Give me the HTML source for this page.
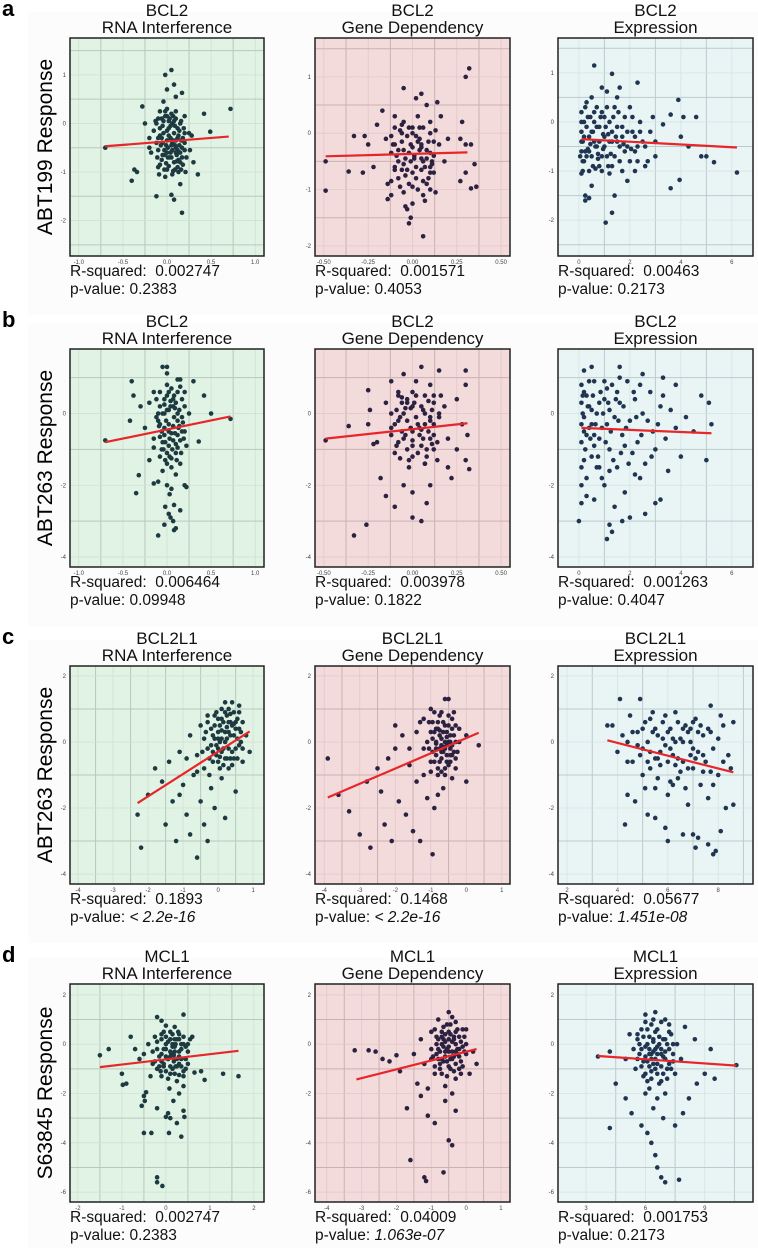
<!DOCTYPE html>
<html><head><meta charset="utf-8"><style>
html,body{margin:0;padding:0;background:#fff;}
svg{display:block;font-family:"Liberation Sans",sans-serif;}
</style></head><body>
<svg id="fig" width="758" height="1248" viewBox="0 0 758 1248" xmlns="http://www.w3.org/2000/svg">
<rect x="0" y="0" width="758" height="1248" fill="#ffffff"/>
</svg>
<script>
const NS="http://www.w3.org/2000/svg";
const svg=document.getElementById('fig');
// ---- data ----
const rowLetters=["a","b","c","d"];
const rowYTitles=["ABT199 Response","ABT263 Response","ABT263 Response","S63845 Response"];
const rowGenes=["BCL2","BCL2","BCL2L1","MCL1"];
const colTypes=["RNA Interference","Gene Dependency","Expression"];
const rsq=[["0.002747","0.001571","0.00463"],["0.006464","0.003978","0.001263"],["0.1893","0.1468","0.05677"],["0.002747","0.04009","0.001753"]];
const pvals=[["0.2383","0.4053","0.2173"],["0.09948","0.1822","0.4047"],["< 2.2e-16","< 2.2e-16","1.451e-08"],["0.2383","1.063e-07","0.2173"]];
const pItalic=[[0,0,0],[0,0,0],[1,1,1],[0,1,0]];
const xTicks=[
 [[-1,-0.5,0,0.5,1],[-0.5,-0.25,0,0.25,0.5],[0,2,4,6]],
 [[-1,-0.5,0,0.5,1],[-0.5,-0.25,0,0.25,0.5],[0,2,4,6]],
 [[-4,-3,-2,-1,0,1],[-4,-3,-2,-1,0,1],[2,4,6,8]],
 [[-2,-1,0,1,2],[-4,-3,-2,-1,0,1],[3,6,9]]];
const xTickLabels=[
 [["-1.0","-0.5","0.0","0.5","1.0"],["-0.50","-0.25","0.00","0.25","0.50"],["0","2","4","6"]],
 [["-1.0","-0.5","0.0","0.5","1.0"],["-0.50","-0.25","0.00","0.25","0.50"],["0","2","4","6"]],
 [["-4","-3","-2","-1","0","1"],["-4","-3","-2","-1","0","1"],["2","4","6","8"]],
 [["-2","-1","0","1","2"],["-4","-3","-2","-1","0","1"],["3","6","9"]]];
const xDomains=[
 [[-1.1,1.1],[-0.55,0.55],[-0.82,6.83]],
 [[-1.1,1.1],[-0.55,0.55],[-0.82,6.83]],
 [[-4.23,1.31],[-4.26,1.23],[1.64,9.38]],
 [[-2.18,2.23],[-4.34,1.26],[1.58,11.44]]];
const yTicks=[[1,0,-1,-2],[0,-2,-4],[2,0,-2,-4],[2,0,-2,-4,-6]];
const yDomains=[
 [[-2.73,1.76],[-2.18,1.69],[-2.73,1.71]],
 [[-4.28,1.8],[-4.28,1.8],[-4.28,1.8]],
 [[-4.3,2.3],[-4.3,2.3],[-4.3,2.3]],
 [[-6.4,2.44],[-6.4,2.44],[-6.4,2.44]]];
const fitLines=[
 [[-0.7,-0.47,0.7,-0.27],[-0.49,-0.41,0.31,-0.34],[0.1,-0.35,6.2,-0.52]],
 [[-0.7,-0.8,0.72,-0.08],[-0.49,-0.7,0.31,-0.27],[0.1,-0.4,5.2,-0.55]],
 [[-2.3,-1.85,0.9,0.32],[-3.9,-1.68,0.35,0.28],[3.6,0.05,8.6,-0.92]],
 [[-1.5,-0.93,1.65,-0.27],[-3.15,-1.43,0.3,-0.2],[3.6,-0.48,10.6,-0.87]]];
const pts=[[
"-0.7,-0.5 0.72,0.3 0.49,-0.17 0.42,0.2 0.05,1.1 -0.02,1.0 0.08,0.8 0.17,0.63 -0.28,0.35 -0.37,-0.95 -0.34,-1.0 -0.4,-1.18 -0.12,-1.5 0.08,-1.57 0.17,-1.84 0.05,-1.47 0.35,-1.05 0.3,-0.8 0.15,-1.25 -0.2,-0.5 -0.25,0.0 0.28,-0.25 0.0,0.7 -0.04,0.45 0.1,0.55 0.0,0.3 -0.1,0.1 0,0.15 0.05,0.2 0.1,0.1 0.15,0.0 -0.05,-0.05 0.02,-0.1 0.08,-0.2 0.12,-0.3 -0.08,-0.25 0,-0.35 0.05,-0.45 0.1,-0.5 -0.03,-0.55 0.15,-0.6 0.2,-0.4 -0.12,-0.4 0.03,-0.7 0.08,-0.8 -0.06,-0.75 0.12,-0.9 0.0,-0.95 0.18,-0.85 -0.1,-0.9 0.06,-1.05 -0.02,-1.1 0.22,-0.7 0.25,-0.2 -0.15,-0.15 -0.18,-0.6 0.2,0.15 0.1,0.25 -0.02,0.25 0.04,-0.6 0.09,-0.05 -0.07,-0.45 0.14,-0.15 0.02,0.05 0.07,-0.35 -0.04,-0.2 0.17,-0.5 0.11,-0.65 -0.01,-0.82 0.04,-0.3 0.13,-1.0 -0.09,-1.05 0.21,-1.0 0.26,-0.55 -0.2,-0.3 -0.13,0.05 0.06,0.0 -0.06,0.1 0.13,-0.75 -0.11,-0.7 0.01,-0.5 0.16,-0.35 -0.03,-0.65 0.09,-0.95 0.19,-0.1 -0.08,0.25",
"-0.49,-0.5 -0.49,-1.02 -0.36,-0.68 -0.33,-0.05 -0.28,-0.7 -0.27,-0.05 -0.25,-0.2 -0.22,-0.6 -0.2,0.15 -0.17,0.4 -0.14,-0.9 -0.14,-1.17 -0.12,-1.1 -0.05,0.8 0.02,0.62 0.05,0.7 0.08,0.5 0.14,0.55 0.3,1.0 0.32,1.15 0.28,0.2 0.27,-0.1 0.3,-0.2 0.33,-0.2 0.35,-0.55 0.36,-0.95 0.33,-0.98 0.3,-0.7 0.27,-0.85 -0.04,-1.3 -0.03,-1.35 -0.01,-1.5 -0.02,-1.6 0.07,-1.2 0.06,-1.83 0.0,-1.25 0.13,-1.05 0.18,-0.5 0.2,-0.1 0.16,0.3 -0.08,-0.8 -0.1,0.3 0.1,0.2 -0.05,0.2 0.0,0.0 0.04,-0.1 -0.06,-0.15 0.08,-0.3 -0.02,-0.35 0.05,-0.45 -0.08,-0.5 0.02,-0.6 0.1,-0.7 -0.04,-0.75 0.06,-0.85 0.12,-0.4 -0.12,-0.35 0.0,-0.95 0.1,-1.0 -0.1,-0.6 0.15,-0.2 -0.15,-0.1 0.03,0.3 -0.07,0.05 0.13,0.05 0.07,-0.6 -0.01,-0.2 0.02,-0.8 0.04,0.1 -0.03,-0.05 0.09,-0.15 -0.06,-0.65 0.05,-0.25 0.11,-0.55 -0.11,-0.2 0.01,-0.45",
"0.6,1.15 1.3,0.98 2.3,0.8 0.9,0.7 1.1,0.62 1.6,0.7 3.9,0.45 4.6,0.1 4.1,0.1 3.3,-0.05 3.6,0.15 4.0,-0.3 4.3,-0.5 4.8,-0.7 5.0,-0.7 5.3,-0.82 6.2,-1.03 3.95,-1.18 3.6,-1.35 1.3,-1.85 1.05,-2.05 0.25,-1.5 0.25,-1.6 0.4,-1.55 1.4,-1.5 3.0,-0.7 2.7,-0.8 2.2,-1.0 1.9,-1.2 0.5,-1.3 0.1,-1.05 0.1,-0.6 0.1,-0.2 0.1,0.2 0.3,0.4 0.5,0.5 0.2,-0.8 0.4,-0.3 0.6,0.0 0.7,-0.5 0.8,-0.9 0.9,0.2 1.0,-0.3 1.1,-0.7 1.2,0.0 1.3,-0.4 1.4,0.3 1.5,-0.1 1.6,-0.8 1.7,-0.3 1.8,0.1 1.9,-0.5 2.0,0.3 2.1,-0.2 2.2,-0.6 2.4,0.0 2.5,-0.4 2.6,-0.9 2.8,-0.2 2.9,0.1 3.0,-0.4 0.3,-0.1 0.5,-0.7 0.7,0.3 0.9,-1.0 1.2,-1.05 1.5,0.5 0.2,0.0 0.4,-1.0 0.6,-0.4 0.8,-0.1 1.0,0.1 1.3,-0.9 1.7,-1.0 2.3,-0.8 0.15,-0.4 0.35,-0.55 0.55,-0.2 0.75,-0.75 0.95,-0.55 1.15,-0.25 0.25,0.3 0.45,0.1 0.65,-0.95"
],[
"-0.05,1.3 0.0,1.3 0.0,1.12 0.12,0.95 0.15,0.95 0.3,0.9 -0.4,0.9 -0.38,0.5 -0.15,0.6 0.42,0.5 0.5,0.0 0.72,-0.15 -0.42,-0.2 -0.7,-0.75 0.36,-0.78 -0.32,-1.72 -0.35,-2.22 -0.15,-1.95 -0.1,-1.9 0.2,-2.0 0.22,-2.05 0.0,-2.0 0.03,-2.25 -0.02,-2.6 0.02,-2.8 0.08,-2.55 0.15,-2.7 0.04,-2.9 0.07,-3.0 -0.03,-3.1 0.08,-3.25 0.1,-3.2 -0.1,-3.4 0.05,-2.1 -0.05,-1.6 0.1,-1.7 0.15,-1.4 -0.2,-1.3 -0.25,-0.4 -0.3,0.2 -0.2,0.3 0.25,0.0 0.2,-0.5 -0.15,-0.7 -0.1,-0.2 0.0,0.5 0.05,0.7 0.1,0.3 -0.05,0.0 0.02,-0.3 0.08,-0.1 0.12,-0.6 -0.02,-0.8 0.06,-1.0 0.16,-1.1 -0.08,-1.2 0.0,-1.4 0.2,0.6 -0.12,0.4 0.04,0.2 0.14,0.1 -0.06,-0.5 0.1,-0.85 0.18,-0.25 0.03,-1.2 -0.15,-0.95 0.22,-0.9 0.08,0.5 -0.03,0.25 0.13,-0.4 0.05,-0.55 -0.04,-1.0 0.11,-1.3 0.0,0.1 0.09,0.15 -0.09,-0.35 0.15,-0.75 0.03,-0.7",
"-0.49,-0.75 -0.36,-0.35 -0.25,0.65 -0.24,0.1 -0.22,-0.85 -0.25,-0.3 -0.2,-0.8 -0.18,-1.8 -0.26,-3.1 -0.33,-3.4 -0.15,-2.3 -0.1,-2.6 0.0,-2.9 0.05,-3.0 0.0,-2.2 0.1,-2.0 0.08,-2.5 -0.05,-2.0 0.2,-1.5 0.22,-1.8 0.3,1.2 0.3,0.8 0.25,0.4 0.28,-0.3 0.31,-0.6 0.3,-1.3 0.32,-1.55 0.25,-1.0 0.15,1.2 0.05,1.3 -0.05,1.1 -0.12,0.9 0.18,0.2 0.2,-0.7 -0.15,0.3 -0.12,-0.4 0.0,0.6 0.05,0.2 -0.05,0.0 0.1,-0.2 0.0,-0.5 -0.08,-0.8 0.08,-1.0 0.0,-1.2 0.12,0.5 -0.03,0.3 0.03,-0.3 0.12,-0.6 -0.07,-0.1 0.06,-0.7 -0.02,-1.5 0.14,-1.3 -0.1,-1.1 0.1,0.8 -0.08,0.6 0.02,0.9 0.07,0.0 -0.04,-0.6 0.15,-0.1 0.0,-0.9 0.04,-0.4 0.09,0.35 -0.06,0.45 0.11,-0.85 -0.01,0.15 0.07,-1.4 -0.1,-0.3",
"0.0,-3.0 0.1,-2.5 1.2,-3.1 1.3,-3.3 1.1,-3.5 1.7,-3.0 2.6,-2.8 3.0,-2.5 3.2,-2.4 2.4,-1.8 3.5,-1.6 4.0,-1.2 4.5,-0.5 5.0,-1.3 5.2,-0.3 5.1,0.3 4.8,0.5 3.8,0.8 3.3,1.0 2.5,1.1 1.6,1.3 0.5,1.3 0.2,1.2 0.1,0.8 0.1,0.3 0.1,-0.3 0.1,-0.8 0.1,-1.5 0.1,-2.0 0.3,0.5 0.4,-0.4 0.5,-1.2 0.6,0.9 0.7,0.0 0.8,-0.7 0.9,-1.8 1.0,0.4 1.1,-0.3 1.2,-1.0 1.3,0.8 1.4,-0.1 1.5,-1.5 1.6,0.3 1.7,-0.6 1.8,-2.2 1.9,0.9 2.0,-0.2 2.1,-1.1 2.2,0.4 2.3,-0.8 2.5,0.0 2.6,-1.4 2.8,0.6 2.9,-0.5 3.0,-1.0 3.2,0.2 3.4,-0.7 3.6,0.1 3.8,-0.4 4.2,-0.1 0.3,-1.8 0.6,-2.4 0.8,0.3 1.0,-2.0 1.4,-2.6 2.0,-2.9 0.2,-0.1 0.5,0.1 0.9,-0.4 1.2,0.1 1.5,0.6 1.8,-0.9 0.4,0.9 2.4,0.8 0.3,-0.6 0.6,-0.9 0.2,0.6 0.7,-1.5 1.1,0.7"
],[
"-2.3,-2.2 -2.2,-3.2 -2.0,-1.6 -1.8,-0.8 -1.6,-1.2 -1.5,-2.5 -1.4,-0.6 -1.3,-1.8 -1.2,-3.0 -1.1,-0.3 -1.0,-1.3 -0.9,-2.2 -0.8,0.2 -0.8,-2.8 -0.7,-1.0 -0.6,-3.5 -0.6,-0.4 -0.5,0.5 -0.5,-1.8 -0.4,-2.5 -0.3,-3.0 -0.3,-0.2 -0.2,-1.4 -0.1,0.8 -0.1,-2.0 0.0,-0.6 0.0,0.3 0.1,1.0 0.1,-1.1 0.2,0.0 0.2,-2.3 0.3,0.6 0.3,-0.8 0.4,1.2 0.4,-0.3 0.5,0.4 0.5,-1.5 0.6,0.9 0.6,-0.1 0.7,-0.6 0.8,0.2 0.9,-0.3 -0.2,0.4 -0.4,0.1 0.0,0.7 0.2,0.9 0.35,0.2 0.45,-0.5 0.1,-0.3 -0.05,-0.1 0.25,0.45 0.55,0.1 -0.15,-0.6 0.15,0.6 0.05,0.0 0.3,-0.2 0.7,0.6 -0.3,0.8 0.2,1.2 -0.6,-0.9 -0.9,-0.5 -1.1,-1.6 -0.25,-1.0 0.1,0.35 0.35,0.85 0.45,0.55 0.05,-0.45 0.25,-0.5 -0.1,0.1",
"-3.9,-0.5 -3.6,-1.6 -3.3,-2.1 -3.0,-2.8 -2.8,-1.2 -2.7,-3.2 -2.5,-0.8 -2.4,-1.5 -2.3,-2.5 -2.1,-3.0 -2.0,-0.2 -2.0,0.5 -1.9,-1.8 -1.8,0.2 -1.7,-2.2 -1.6,-0.7 -1.5,-2.7 -1.4,-1.2 -1.3,0.6 -1.3,-3.0 -1.2,-0.2 -1.1,-1.7 -1.0,1.0 -1.0,-0.6 -0.95,-3.4 -0.9,0.3 -0.9,-2.0 -0.8,-1.0 -0.75,0.8 -0.7,-0.3 -0.65,-1.4 -0.6,0.5 -0.55,-0.1 -0.5,1.3 -0.5,-0.7 -0.45,0.2 -0.4,-1.1 -0.4,0.7 -0.3,0.0 -0.3,-0.5 -0.2,0.4 0.0,-1.2 0.0,0.2 0.35,-0.1 -0.85,-0.4 -0.6,-0.8 -0.7,0.1 -1.1,0.0 -1.2,0.7 -0.95,0.6 -0.55,-0.4 -0.75,-0.6 -0.65,0.3 -0.45,-0.2 -0.85,0.0 -1.4,0.3 -1.6,-0.2 -0.35,0.9 -0.6,1.3 -0.8,-1.6 -1.2,-1.0 -2.2,-0.5 -0.5,0.0 -0.8,0.4 -0.6,-0.2 -0.4,-0.4 -0.7,-0.9",
"3.6,0.5 3.8,0.5 4.1,1.3 4.9,1.3 4.3,-2.5 4.4,-1.6 4.7,-1.8 5.2,-2.2 5.5,-2.3 5.9,-2.6 6.0,-3.0 6.6,-2.8 7.0,-2.8 7.1,-3.2 7.2,-2.9 7.6,-3.1 7.8,-3.4 7.9,-3.3 8.1,-2.7 8.6,-1.9 8.3,-2.0 7.7,1.1 8.1,0.8 8.6,0.6 8.2,0.5 8.4,-0.4 8.5,-0.8 4.0,-0.3 4.2,0.2 4.5,0.8 4.6,-0.6 4.8,0.3 5.0,-1.0 5.1,0.6 5.3,-0.3 5.4,0.9 5.5,-1.4 5.6,0.2 5.7,-0.7 5.8,0.6 5.9,-0.1 6.0,-1.6 6.1,0.4 6.2,-0.4 6.3,0.9 6.4,-1.1 6.5,0.1 6.6,-0.6 6.7,0.5 6.8,-1.9 6.9,0.0 7.0,-0.8 7.1,0.7 7.2,-0.3 7.3,-1.3 7.4,0.2 7.5,-0.6 7.6,-1.7 7.8,-0.2 8.0,-1.0 5.2,0.0 5.7,-0.3 6.0,0.3 6.3,-0.7 6.6,0.0 6.9,-0.4 6.4,0.6 5.5,0.4 4.9,-0.4 7.3,0.5 6.1,-1.2 5.3,-0.8 4.4,0.0 5.0,-0.2 6.8,0.3 7.7,-0.9"
],[
"-1.5,-0.45 -1.3,-0.2 -1.0,-1.2 -0.98,-1.65 -0.9,-1.6 -0.8,0.3 -0.55,-2.5 -0.5,-2.1 -0.48,-2.3 -0.45,-1.95 -0.5,-3.6 -0.33,-3.6 -0.2,-2.6 0.0,-2.95 0.05,-2.8 0.07,-3.6 0.1,-3.0 0.25,-3.2 0.35,-3.75 0.4,-2.7 0.42,-2.95 0.17,-2.3 -0.2,-5.4 -0.2,-5.6 -0.08,-5.75 1.3,-1.2 1.65,-1.3 0.88,-1.45 0.8,-1.1 0.65,-1.15 0.6,0.3 -0.2,1.1 -0.1,0.95 0.4,1.2 0.0,0.75 0.2,0.7 -0.5,-0.4 -0.4,0.0 -0.3,-0.8 -0.2,-0.2 -0.1,-1.3 0.0,-0.5 0.05,0.1 0.1,-0.9 0.15,0.4 0.2,-0.3 0.25,-1.5 0.3,0.2 0.35,-0.6 0.4,-1.1 0.45,-0.1 0.5,-0.8 0.55,0.2 -0.25,0.3 -0.15,-0.9 0.08,-1.8 0.22,0.0 0.12,-0.4 -0.05,-0.2 0.3,-0.3 0.18,-0.7 0.0,0.3 -0.35,-1.3 0.4,-1.7 0.3,-2.0 -0.6,-0.6 -0.7,-0.2 0.28,0.5 0.1,-1.2 -0.1,0.2 0.15,-0.1 0.05,-0.6 0.25,-0.9 0.35,0.0 -0.05,-0.9",
"-3.2,-0.25 -2.8,-0.25 -2.6,-0.3 -2.4,-0.6 -2.2,-0.7 -2.0,-0.45 -1.9,-1.1 -1.7,-2.6 -1.6,-4.7 -1.2,-5.4 -1.15,-5.55 -0.65,-5.2 -1.4,-1.6 -1.3,-2.1 -1.1,-2.9 -0.9,-3.2 -0.6,-2.3 -0.5,-3.9 -0.4,-4.1 -0.3,-2.7 0.1,-1.2 0.2,-0.3 0.3,-0.8 -1.5,-0.4 -1.3,0.2 -1.0,0.5 -0.8,1.0 -0.5,1.3 -0.3,0.9 0.0,0.6 -1.2,-0.8 -1.0,-0.2 -0.9,-1.2 -0.8,0.2 -0.7,-0.6 -0.6,0.4 -0.5,-0.3 -0.45,-1.0 -0.4,0.1 -0.35,-0.5 -0.3,-1.4 -0.2,0.3 -0.15,-0.7 -0.1,-0.1 0.0,-0.4 -0.65,-0.1 -0.75,-1.0 -0.55,-0.7 -0.25,-0.2 -0.85,-0.4 -1.1,-1.8 -0.6,-1.7 -0.4,-2.0 -0.9,0.6 -0.55,0.8 -0.2,-1.0 -1.0,-0.6 -0.7,0.5 -0.45,0.4 -0.3,0.0 -0.6,-0.3 -0.5,0.2 -0.8,-0.2 -0.4,-0.6 -0.7,0.0 -0.35,0.3",
"3.6,-0.5 4.2,-0.3 4.5,-1.6 4.2,-3.4 5.0,-2.2 5.3,-2.8 5.8,-3.3 6.1,-3.6 6.3,-4.0 6.5,-4.5 6.6,-5.0 6.8,-5.4 7.0,-5.6 7.7,-5.5 7.5,-3.3 7.9,-2.8 8.2,-2.2 8.6,-1.6 9.0,-1.2 9.5,-1.4 10.6,-0.85 9.3,-0.2 8.5,0.2 8.0,0.7 6.0,1.2 6.5,1.3 6.8,0.9 5.2,0.4 5.0,-0.6 5.5,-1.0 5.6,0.2 5.7,-0.4 5.8,0.6 5.9,-1.3 6.0,-0.1 6.1,-0.7 6.2,0.3 6.3,-1.1 6.4,-0.3 6.5,0.5 6.6,-0.8 6.7,0.0 6.8,-1.5 6.9,-0.5 7.0,0.2 7.1,-1.0 7.2,-0.2 7.3,0.4 7.4,-0.7 7.5,-1.2 7.6,0.0 7.8,-0.6 6.2,-1.8 6.6,-2.2 6.0,-2.0 7.0,-2.0 6.4,-2.6 6.9,-3.0 6.3,0.8 7.2,0.8 6.1,-1.5 5.4,-0.2 6.5,-0.6 6.8,-0.2 6.2,-0.4 7.0,-0.6 6.4,0.1 5.9,-0.7 6.6,-1.2"
]];
const ptsCore=[[
"-0.12,0.0 -0.08,-0.1 -0.04,0.05 0.0,-0.15 0.04,-0.05 0.08,0.05 0.12,-0.1 0.16,0.05 0.2,-0.2 -0.1,-0.3 -0.05,-0.4 0.02,-0.25 0.06,-0.4 0.1,-0.35 0.14,-0.45 0.18,-0.3 -0.1,-0.55 -0.05,-0.65 0.0,-0.6 0.05,-0.7 0.1,-0.6 0.15,-0.8 0.2,-0.55 -0.08,-0.85 -0.03,-0.95 0.02,-0.88 0.07,-0.98 0.11,-0.78 0.16,-0.95 0.03,0.1 -0.01,-0.45 0.13,-0.25 0.09,-0.45 -0.06,-0.3 0.01,-0.7 0.06,-0.55 0.12,-0.55 0.17,-0.7 -0.02,0.15 0.07,0.15",
"-0.1,0.1 -0.06,0.0 -0.02,0.1 0.02,-0.05 0.06,0.1 0.1,0.0 -0.1,-0.2 -0.05,-0.3 0.0,-0.25 0.05,-0.2 0.1,-0.35 -0.09,-0.4 -0.04,-0.45 0.01,-0.4 0.06,-0.5 0.11,-0.5 -0.1,-0.65 -0.05,-0.55 0.0,-0.7 0.05,-0.65 0.09,-0.8 -0.07,-0.95 -0.02,-0.9 0.03,-1.0 0.08,-0.9 0.12,-0.15 -0.12,-0.05 0.03,-0.15 -0.03,-0.65 0.08,-0.45 -0.06,0.15 0.0,0.1 0.04,-0.3 -0.08,-0.3 0.12,-0.7 -0.12,-0.85 0.06,-1.1 -0.05,-1.05 0.1,-0.6 -0.01,-0.5",
"0.1,-0.4 0.15,-0.8 0.2,-0.3 0.3,-0.7 0.35,0.1 0.4,-0.6 0.5,-0.2 0.55,-0.9 0.6,0.2 0.65,-0.5 0.7,-0.1 0.8,-0.4 0.85,0.1 0.9,-0.7 1.0,-0.5 1.05,-0.1 1.1,0.3 1.15,-0.9 1.2,-0.4 1.3,-0.2 1.35,0.1 1.4,-0.7 1.5,-0.4 1.55,0.2 1.6,-0.5 1.7,-0.1 1.8,-0.6 1.9,-0.2 2.0,-0.8 2.1,0.1 2.2,-0.3 2.3,-0.5 2.4,-0.2 2.6,-0.5 0.25,-0.6 0.45,-0.45 0.75,-0.65 0.95,-0.25 1.25,-0.65 1.45,-0.3 0.1,0.0 0.15,-1.0 0.05,-0.7 1.75,-0.45 2.05,-0.55"
],[
"-0.08,0.6 -0.03,0.4 0.02,0.6 0.07,0.4 0.12,0.6 0.17,0.4 -0.08,0.2 -0.03,0.0 0.02,0.1 0.07,0.2 0.12,0.0 0.17,-0.1 -0.08,-0.3 -0.03,-0.4 0.02,-0.5 0.07,-0.35 0.12,-0.2 0.17,-0.5 -0.08,-0.65 -0.03,-0.6 0.02,-0.9 0.07,-0.75 0.12,-0.95 -0.06,-1.0 0.0,-1.1 0.05,-1.25 0.1,-1.1 -0.12,-0.1 0.2,0.2 0.15,0.75 0.0,0.8 -0.05,-0.8 0.09,-0.55 0.14,-0.35 -0.01,-0.2 0.04,0.35 -0.1,0.0 0.19,-0.7 0.05,-1.5 -0.02,-1.3",
"-0.08,0.5 -0.03,0.4 0.02,0.5 0.07,0.5 0.12,0.3 -0.09,0.1 -0.04,0.15 0.01,0.3 0.06,0.1 0.11,0.1 -0.08,-0.2 -0.03,-0.2 0.02,-0.1 0.07,-0.3 0.12,-0.3 -0.06,-0.5 -0.01,-0.4 0.04,-0.6 0.09,-0.5 0.14,-0.8 -0.05,-0.7 0.0,-0.75 0.05,-0.9 0.1,-0.7 -0.09,-0.9 -0.03,-1.0 0.03,-1.1 0.08,-1.2 -0.12,0.0 0.15,0.0 0.16,0.5 -0.12,-0.6 0.0,0.2 0.05,-0.45 -0.06,0.3 0.1,-0.1 -0.02,-1.3 0.07,-1.4 0.12,-1.0 -0.07,-1.25",
"0.15,0.0 0.2,-0.5 0.25,-1.0 0.35,0.2 0.45,-0.7 0.55,0.5 0.65,-0.3 0.75,-1.2 0.85,0.6 0.95,0.0 1.05,-0.8 1.15,0.3 1.25,-0.5 1.35,-1.3 1.45,0.4 1.55,-0.2 1.65,-1.1 1.75,0.2 1.85,-0.4 1.95,-1.4 2.15,0.6 2.25,-0.1 2.45,-0.6 2.7,-0.2 2.85,-1.2 3.1,-0.3 3.3,0.5 0.3,-2.3 0.2,-1.3 0.4,0.2 0.6,-0.6 0.8,-1.5 1.0,0.9 1.2,-1.6 1.6,1.0 2.2,-1.7 0.15,0.5 0.5,-0.3"
],[
"-0.45,-0.3 -0.35,0.3 -0.25,-0.5 -0.15,0.2 -0.05,-0.4 0.05,0.5 0.15,-0.2 0.25,0.8 0.35,-0.5 0.45,0.2 0.55,0.7 0.65,0.3 -0.4,-0.8 -0.3,0.6 -0.2,-0.1 -0.1,0.5 0.0,-0.2 0.1,0.7 0.2,0.3 0.3,1.0 0.4,0.5 0.5,-0.2 0.6,0.4 0.7,-0.2 0.15,-0.7 0.25,0.1 0.35,0.6 0.45,0.9 0.05,-0.8 -0.15,-0.3 0.55,-0.5 0.65,0.0 0.1,0.1 0.3,0.3 -0.05,0.9 0.2,-0.5 0.4,-0.7 0.5,0.6 0.6,1.1 0.0,0.1",
"-1.05,-0.2 -0.95,0.1 -0.85,-0.2 -0.75,0.2 -0.65,-0.3 -0.55,0.3 -0.45,-0.4 -0.35,0.2 -1.0,0.3 -0.9,-0.6 -0.8,0.6 -0.7,-0.5 -0.6,0.0 -0.5,0.5 -0.4,-0.1 -0.3,0.5 -0.95,-0.3 -0.85,0.4 -0.75,-0.2 -0.65,0.6 -0.55,-0.6 -0.45,0.0 -0.35,-0.3 -1.05,0.6 -0.9,0.9 -0.7,0.9 -0.5,0.8 -0.6,-1.0 -0.8,-0.8 -0.4,0.4 -0.55,0.15 -0.75,0.35 -0.65,-0.15 -0.85,-0.05 -0.45,-0.6 -1.0,-0.9 -0.3,-0.8 -0.2,0.0 -0.25,-0.3 -0.7,-0.1",
"4.8,-0.1 5.0,0.4 5.2,-0.6 5.4,0.3 5.6,-0.5 5.8,0.1 6.0,-0.6 6.2,0.1 6.4,-0.5 6.6,0.4 6.8,-0.8 7.0,-0.2 7.2,0.3 7.4,-0.4 7.6,0.4 7.8,-1.3 8.0,0.1 8.2,-0.6 5.3,0.7 5.9,0.8 6.5,-0.9 7.0,0.6 5.6,-1.1 6.2,-1.3 6.7,-1.4 7.4,-0.9 4.6,0.3 4.4,-0.6 5.1,-1.4 7.7,0.3 6.1,-0.2 6.9,0.4 5.5,-0.5 6.3,0.0 7.1,-0.5"
],[
"-0.3,-0.3 -0.2,0.1 -0.1,-0.4 0.0,0.0 0.1,-0.3 0.2,0.2 0.3,-0.5 0.4,0.0 0.5,-0.3 -0.25,-0.7 -0.15,-0.5 -0.05,-0.8 0.05,-0.6 0.15,-1.0 0.25,-0.6 0.35,-0.9 0.45,-0.6 -0.2,-1.0 -0.1,-0.7 0.0,-1.1 0.1,-0.5 0.2,-1.2 0.3,-0.8 0.4,-1.3 -0.1,0.4 0.0,-0.2 0.1,0.2 0.2,-0.1 0.3,0.4 0.4,0.3 0.05,-1.4 0.15,0.0 0.25,0.2 0.35,-0.2 0.45,-1.0 -0.05,0.5 0.1,0.5 0.18,-0.45 -0.12,-1.1 0.3,-1.25 0.5,0.0 0.22,-0.9",
"-0.95,-0.5 -0.85,0.0 -0.75,-0.3 -0.65,0.2 -0.55,-0.2 -0.45,-0.6 -0.35,0.2 -0.25,-0.4 -0.15,0.1 -0.05,-0.3 -0.9,-0.9 -0.8,-0.6 -0.7,-1.2 -0.6,-0.5 -0.5,-0.9 -0.4,-0.3 -0.3,-0.8 -0.2,-0.5 -0.1,-0.9 0.0,0.0 -0.85,0.3 -0.65,0.7 -0.45,0.8 -0.25,0.6 -0.05,0.3 -0.75,-0.8 -0.55,-1.3 -0.35,-1.1 -0.15,-1.2 -0.6,0.1 -0.4,-0.5 -0.2,-0.2 -0.5,0.5 -0.3,0.5 -0.7,0.3 -0.5,-0.1 -0.3,-0.3 -0.1,0.6 -0.4,1.1 -0.65,-0.7",
"5.6,-0.6 5.8,-0.2 6.0,-0.5 6.2,-0.9 6.4,0.2 6.6,-0.4 6.8,-0.9 7.0,-0.3 7.2,-0.8 7.4,0.0 5.7,0.0 5.9,0.3 6.1,0.0 6.3,-0.4 6.5,-1.0 6.7,0.3 6.9,-1.2 7.1,0.0 7.3,-1.0 5.8,-0.9 6.0,-1.2 6.2,-0.2 6.4,-0.8 6.6,0.6 6.8,-0.4 7.0,-0.6 7.2,0.5 7.4,-0.4 6.1,0.6 6.5,-0.2 6.9,0.2 6.3,-1.4 6.7,-1.6 7.1,-1.4 5.6,0.4 6.0,0.9 6.4,1.0 7.0,1.0 6.3,-0.6 6.6,-0.1"
]];
// ---- layout ----
const colX=[[70,264],[315,510],[558,753]];
const rowTop=[38,349,666,984];
const panelH=218;
const bgs=["#e1f3e4","#f3dadb","#e9f5f5"];
const dotCol=["#1c3a40","#2b2140","#1f3552"];
const gridMinor=["#b7c9ba","#cdb0b2","#bccacc"];
const gridMajor=["#d0e1d3","#e4c7c9","#d5e3e4"];
function mk(tag,attrs,parent){const e=document.createElementNS(NS,tag);for(const k in attrs)e.setAttribute(k,attrs[k]);(parent||svg).appendChild(e);return e;}

for(let r=0;r<4;r++){
  const top=rowTop[r];
  const back=mk('rect',{x:28,y:top-26,width:730,height:panelH+85,fill:'#fcfcfc'});
  
  
  const lt=mk('text',{x:2,y:top-22,'font-size':22,'font-weight':'bold',fill:'#000'});
  lt.textContent=rowLetters[r];
  
  
  const yt=mk('text',{x:0,y:0,'font-size':21,fill:'#000','text-anchor':'middle',transform:`translate(52,${top+panelH/2}) rotate(-90)`});
  yt.textContent=rowYTitles[r];
  
  
  for(let c=0;c<3;c++){
    const [x0,x1]=colX[c];const y0=top,y1=top+panelH;
    const [dx0,dx1]=xDomains[r][c];const [dy0,dy1]=yDomains[r][c];
    const sx=v=>x0+(v-dx0)/(dx1-dx0)*(x1-x0);
    const sy=v=>y1-(v-dy0)/(dy1-dy0)*(y1-y0);
    const g=mk('g',{});
    
    
    const cx=(x0+x1)/2;
    const t1=mk('text',{x:cx,y:top-22,'font-size':17,'text-anchor':'middle',fill:'#111'},g);
    t1.textContent=rowGenes[r];
    
    
    const t2=mk('text',{x:cx,y:top-5,'font-size':17,'text-anchor':'middle',fill:'#111'},g);
    t2.textContent=colTypes[c];
    
    
    const bg=mk('rect',{x:x0,y:y0,width:x1-x0,height:panelH,fill:bgs[c]},g);
    
    
    const xt=xTicks[r][c],ytk=yTicks[r];
    const gl=(a,b,cA,cB,col,w)=>{const l=mk('line',{x1:a,y1:cA,x2:b,y2:cB,stroke:col,'stroke-width':w},g);};
    const stepx=xt[1]-xt[0];
    for(let v=xt[0]-stepx;v<=xt[xt.length-1]+stepx+1e-9;v+=stepx){
      if(v>=dx0&&v<=dx1)gl(sx(v),sx(v),y0,y1,gridMajor[c],0.8);
      const m=v+stepx/2; if(m>dx0&&m<dx1)gl(sx(m),sx(m),y0,y1,gridMinor[c],1);
    }
    const stepy=ytk[0]-ytk[1];
    for(let v=ytk[ytk.length-1]-stepy;v<=ytk[0]+stepy+1e-9;v+=stepy){
      if(v>=dy0&&v<=dy1)gl(x0,x1,sy(v),sy(v),gridMajor[c],0.8);
      const m=v+stepy/2; if(m>dy0&&m<dy1)gl(x0,x1,sy(m),sy(m),gridMinor[c],1);
    }
    (pts[r][c]+' '+ptsCore[r][c]).split(' ').forEach(s=>{const [px,py]=s.split(',').map(Number);
      const d=mk('circle',{cx:sx(px),cy:sy(py),r:2.3,fill:dotCol[c]},g);
      
      
    });
    const fl=fitLines[r][c];
    const ln=mk('line',{x1:sx(fl[0]),y1:sy(fl[1]),x2:sx(fl[2]),y2:sy(fl[3]),stroke:'#e8262a','stroke-width':2.2},g);
    
    
    const fr=mk('rect',{x:x0,y:y0,width:x1-x0,height:panelH,fill:'none',stroke:'#222','stroke-width':1.5},g);
    
    
    xt.forEach((v,i)=>{const tl=mk('text',{x:sx(v),y:y1+8,'font-size':6,'text-anchor':'middle',fill:'#444'},g);tl.textContent=xTickLabels[r][c][i];
      });
    ytk.forEach(v=>{const tl=mk('text',{x:x0-4,y:sy(v)+2,'font-size':6,'text-anchor':'end',fill:'#444'},g);tl.textContent=String(v);
      });
    const rs=mk('text',{x:x0,y:y1+20,'font-size':15.5,fill:'#111'},g);
    rs.textContent='R-squared:  '+rsq[r][c];
    rs.style.whiteSpace='pre';
    
    
    const pv=mk('text',{x:x0,y:y1+38,'font-size':15.5,fill:'#111'},g);
    
    
    const a=mk('tspan',{},pv);a.textContent='p-value: ';
    const b=mk('tspan',{},pv);b.textContent=pvals[r][c];
    if(pItalic[r][c])b.setAttribute('font-style','italic');
  }
}
</script>
</body></html>
